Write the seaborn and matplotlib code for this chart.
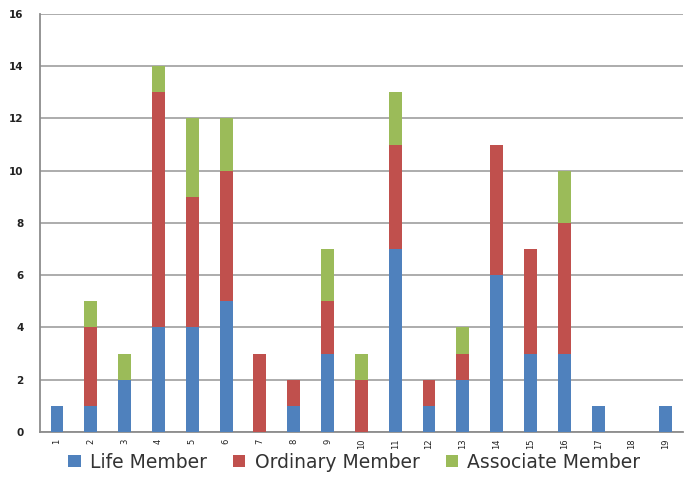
import numpy as np
import pandas as pd
import matplotlib
matplotlib.use("Agg")
import matplotlib.pyplot as plt
import seaborn as sns
from matplotlib.patches import Patch

categories = [str(i) for i in range(1, 20)]
life = [1, 1, 2, 4, 4, 5, 0, 1, 3, 0, 7, 1, 2, 6, 3, 3, 1, 0, 1]
ordinary = [0, 3, 0, 9, 5, 5, 3, 1, 2, 2, 4, 1, 1, 5, 4, 5, 0, 0, 0]
associate = [0, 1, 1, 1, 3, 2, 0, 0, 2, 1, 2, 0, 1, 0, 0, 2, 0, 0, 0]
series_names = ["Life Member", "Ordinary Member", "Associate Member"]
colors = ["#4F81BD", "#C0504D", "#9BBB59"]

sns.set_style("white")
fig = plt.figure(figsize=(6.91, 4.97), dpi=100)
ax = fig.add_axes([0.058, 0.131, 0.930, 0.841])

df = pd.DataFrame({"cat": categories, "life": life, "ord": ordinary, "assoc": associate})
bottom = np.zeros(len(categories))
for col, name, c in zip(["life", "ord", "assoc"], series_names, colors):
    vals = df[col].to_numpy(dtype=float)
    sns.barplot(x=df["cat"], y=vals, order=categories, color=c, width=0.38,
                bottom=bottom, ax=ax, errorbar=None, saturation=1,
                edgecolor="none", zorder=3)
    bottom = bottom + vals

ax.set_ylim(0, 16)
ax.set_xlim(-0.5, len(categories) - 0.5)
ax.set_yticks(np.arange(0, 17, 2))
ax.yaxis.grid(True, color="#a6a6a6", linewidth=1.3, zorder=0)
ax.set_axisbelow(True)
ax.set_xlabel("")
ax.set_ylabel("")
for s in ["top", "right"]:
    ax.spines[s].set_visible(False)
for s in ["left", "bottom"]:
    ax.spines[s].set_color("#8c8c8c")
    ax.spines[s].set_linewidth(1.3)

ax.set_xticks(range(len(categories)))
ax.set_xticklabels(categories, rotation=90, fontsize=6, color="#222222")
ax.set_xticks(np.arange(-0.5, len(categories), 1), minor=True)
ax.tick_params(axis="x", which="major", length=0, pad=5)
ax.tick_params(axis="x", which="minor", length=4, color="#8c8c8c", width=1)
ax.tick_params(axis="y", length=4, color="#8c8c8c", width=1, labelsize=7.5,
               labelcolor="#222222", pad=8)
for t in ax.get_yticklabels():
    t.set_fontweight("bold")

handles = [Patch(facecolor=c, edgecolor="none") for c in colors]
fig.legend(handles, series_names, loc="center", bbox_to_anchor=(0.513, 0.07),
           ncol=3, frameon=False, fontsize=13.5, handlelength=0.65,
           handleheight=0.65, columnspacing=1.4, handletextpad=0.5,
           labelcolor="#333333")

fig.savefig("out.png", dpi=100)
